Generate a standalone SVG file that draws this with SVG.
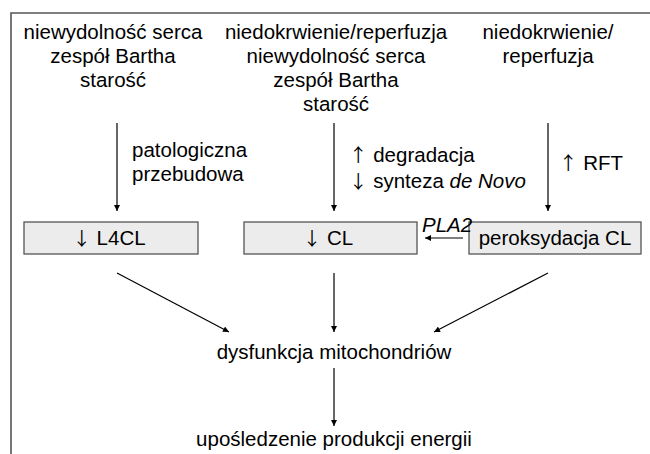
<svg xmlns="http://www.w3.org/2000/svg" width="650" height="454" viewBox="0 0 650 454">
<defs>
<marker id="ah" viewBox="0 0 10 10" refX="10" refY="5" markerWidth="7" markerHeight="6" markerUnits="userSpaceOnUse" orient="auto">
<path d="M0,0 L10,5 L0,10 z" fill="#000"/>
</marker>
<style>
text{font-family:"Liberation Sans",Arial,sans-serif;font-size:20.5px;fill:#000}
.c{text-anchor:middle}
.ar{font-family:"Noto Sans CJK SC",sans-serif;font-size:18.5px}
.box{fill:#ececec;stroke:#555;stroke-width:1.3}
.ln{stroke:#000;stroke-width:1.2;fill:none;marker-end:url(#ah)}
.fr{stroke:#555;stroke-width:1.6;fill:none}
</style>
</defs>
<rect width="650" height="454" fill="#fff"/>
<path class="fr" d="M650,13 H11 V454"/>
<g id="src1">
<text class="c" x="113" y="39">niewydolność serca</text>
<text class="c" x="113" y="63">zespół Bartha</text>
<text class="c" x="113" y="87">starość</text>
</g>
<g id="src2">
<text class="c" x="336" y="39">niedokrwienie/reperfuzja</text>
<text class="c" x="336" y="63">niewydolność serca</text>
<text class="c" x="336" y="87">zespół Bartha</text>
<text class="c" x="336" y="111">starość</text>
</g>
<g id="src3">
<text class="c" x="548" y="39">niedokrwienie/</text>
<text class="c" x="548" y="63">reperfuzja</text>
</g>
<g id="l4cl">
<rect class="box" x="24" y="222" width="174" height="32"/>
<text class="c" x="109" y="245"><tspan class="ar">↓</tspan> L4CL</text>
</g>
<g id="cl">
<rect class="box" x="244" y="222" width="173" height="32"/>
<text class="c" x="328" y="245"><tspan class="ar">↓</tspan> CL</text>
</g>
<g id="perox">
<rect class="box" x="469" y="222" width="172" height="32"/>
<text class="c" x="555" y="245">peroksydacja CL</text>
</g>
<g id="dys">
<text class="c" x="334" y="359">dysfunkcja mitochondriów</text>
</g>
<g id="energy">
<text class="c" x="334" y="446">upośledzenie produkcji energii</text>
</g>
<g id="connectors">
<line class="ln" x1="117" y1="123" x2="117" y2="211"/>
<line class="ln" x1="334" y1="123" x2="334" y2="211"/>
<line class="ln" x1="548" y1="123" x2="548" y2="211"/>
<line class="ln" x1="463" y1="238" x2="425" y2="238"/>
<line class="ln" x1="117" y1="273" x2="229" y2="332"/>
<line class="ln" x1="334" y1="273" x2="334" y2="332"/>
<line class="ln" x1="548" y1="273" x2="434" y2="332"/>
<line class="ln" x1="334" y1="368" x2="334" y2="426"/>
<text x="132" y="157">patologiczna</text>
<text x="132" y="181">przebudowa</text>
<text x="349" y="162"><tspan class="ar">↑</tspan> degradacja</text>
<text x="349" y="188"><tspan class="ar">↓</tspan> synteza <tspan font-style="italic">de Novo</tspan></text>
<text x="559" y="170"><tspan class="ar">↑</tspan> RFT</text>
<text x="422" y="232" font-style="italic" font-size="18">PLA2</text>
</g>
</svg>
